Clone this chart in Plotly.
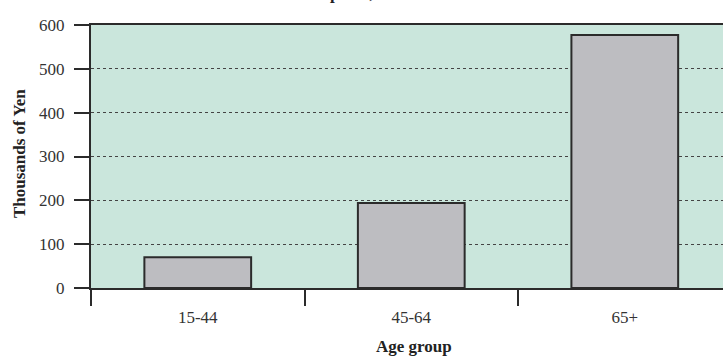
import plotly.graph_objects as go

# Health-care spending per person by age group (thousands of yen)
age_groups = ["15-44", "45-64", "65+"]
spending = [70, 194, 577]
y_ticks = [0, 100, 200, 300, 400, 500, 600]
boundaries = [-0.5, 0.5, 1.5]

serif = "Liberation Serif"
dark = "#2b2b2b"
text_col = "#333333"

fig = go.Figure()
fig.add_trace(go.Bar(
    x=list(range(len(age_groups))),
    y=spending,
    width=0.5,
    marker=dict(color="#bdbdc1", line=dict(color=dark, width=2)),
    hoverinfo="skip",
))

fig.update_layout(
    width=723,
    height=360,
    margin=dict(l=91, r=0, t=25, b=72),
    plot_bgcolor="#cae6dc",
    paper_bgcolor="white",
    showlegend=False,
    font=dict(family=serif, size=17, color=text_col),
    xaxis=dict(
        range=[-0.5, 2.46],
        tickmode="array",
        tickvals=list(range(len(age_groups))),
        ticktext=age_groups,
        # invisible major ticks push the labels below the boundary ticks
        ticks="outside",
        ticklen=13,
        tickcolor="rgba(0,0,0,0)",
        showgrid=False,
        zeroline=False,
        showline=True,
        linecolor=dark,
        linewidth=2,
        mirror=True,
        minor=dict(
            tickmode="array",
            tickvals=boundaries,
            ticks="outside",
            ticklen=16,
            tickwidth=2,
            tickcolor=dark,
            showgrid=False,
        ),
        tickfont=dict(family=serif, size=17, color=text_col),
        fixedrange=True,
    ),
    yaxis=dict(
        range=[0, 600],
        tickmode="array",
        tickvals=y_ticks,
        ticks="outside",
        ticklen=15,
        tickwidth=2,
        tickcolor=dark,
        ticklabelstandoff=6,
        showline=True,
        linecolor=dark,
        linewidth=2,
        showgrid=True,
        gridcolor="#444444",
        griddash="dot",
        gridwidth=1,
        zeroline=False,
        tickfont=dict(family=serif, size=17, color=text_col),
        fixedrange=True,
    ),
)

# Axis titles
fig.add_annotation(
    text="<b>Age group</b>", xref="paper", yref="paper",
    x=0.5115, y=-0.224, xanchor="center", yanchor="middle",
    showarrow=False, font=dict(family=serif, size=17, color="#222222"),
)
fig.add_annotation(
    text="<b>Thousands of Yen</b>", xref="paper", yref="paper",
    x=-0.114, y=0.513, xanchor="center", yanchor="middle", textangle=-90,
    showarrow=False, font=dict(family=serif, size=17, color="#222222"),
)
# Chart heading, sitting at the very top edge of the page
fig.add_annotation(
    text="<b>Health Care in Hospitals, 2000</b>", xref="paper", yref="paper",
    x=0.333, y=1.076, xanchor="center", yanchor="bottom",
    showarrow=False, font=dict(family=serif, size=17, color="#222222"),
)

fig.write_html("out.html")
